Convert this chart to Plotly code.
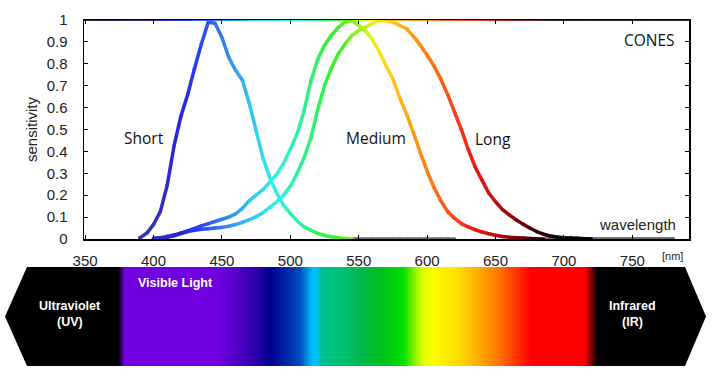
import plotly.graph_objects as go
import numpy as np

# ---------------- data ----------------
SHORT_NM = [390, 395, 400, 405, 410, 415, 420, 425, 430, 435, 440, 445, 450, 455, 460,
            465, 470, 475, 480, 485, 490, 495, 500, 505, 510, 515, 520, 525, 530, 535,
            540, 545, 550, 555, 560, 565, 570, 575, 580, 585, 590, 595, 600, 605, 610,
            615, 620]
SHORT = [0.005, 0.026, 0.066, 0.125, 0.245, 0.425, 0.56, 0.66, 0.78, 0.89, 0.99, 0.985,
         0.92, 0.83, 0.77, 0.725, 0.62, 0.495, 0.37, 0.28, 0.21, 0.155, 0.117, 0.083,
         0.056, 0.04, 0.026, 0.016, 0.01, 0.005, 0.002, 0, 0, 0, 0, 0, 0, 0, 0, 0, 0,
         0, 0, 0, 0, 0, 0]

MEDIUM_NM = [400, 405, 410, 415, 420, 425, 430, 435, 440, 445, 450, 455, 460, 465, 470,
             475, 480, 485, 490, 495, 500, 505, 510, 515, 520, 525, 530, 535, 540, 545,
             550, 555, 560, 565, 570, 575, 580, 585, 590, 595, 600, 605, 610, 615, 620,
             625, 630, 635, 640, 645, 650, 655, 660, 665, 670, 675, 680, 685, 690, 700,
             710, 720, 730, 740, 750, 760, 770, 780]
MEDIUM = [0.003, 0.006, 0.012, 0.019, 0.027, 0.037, 0.048, 0.06, 0.07, 0.08, 0.09, 0.1,
          0.115, 0.14, 0.175, 0.2, 0.225, 0.26, 0.295, 0.345, 0.41, 0.48, 0.585, 0.72,
          0.82, 0.885, 0.93, 0.965, 0.99, 0.998, 0.975, 0.95, 0.91, 0.855, 0.79, 0.73,
          0.645, 0.57, 0.485, 0.395, 0.31, 0.235, 0.175, 0.125, 0.095, 0.07, 0.055,
          0.043, 0.032, 0.024, 0.017, 0.011, 0.008, 0.006, 0.004, 0.002, 0.001, 0, 0,
          0, 0, 0, 0, 0, 0, 0, 0, 0]

LONG_NM = [400, 405, 410, 415, 420, 425, 430, 435, 440, 445, 450, 455, 460, 465, 470,
           475, 480, 485, 490, 495, 500, 505, 510, 515, 520, 525, 530, 535, 540, 545,
           550, 555, 560, 565, 570, 575, 580, 585, 590, 595, 600, 605, 610, 615, 620,
           625, 630, 635, 640, 645, 650, 655, 660, 665, 670, 675, 680, 685, 690, 695,
           700, 705, 710, 715, 720, 730, 740, 750, 760, 770, 780]
LONG = [0.002, 0.004, 0.008, 0.015, 0.025, 0.034, 0.04, 0.044, 0.047, 0.05, 0.053, 0.058,
        0.066, 0.076, 0.088, 0.102, 0.12, 0.145, 0.17, 0.2, 0.24, 0.3, 0.37, 0.46, 0.59,
        0.7, 0.78, 0.845, 0.89, 0.93, 0.952, 0.968, 0.985, 0.997, 0.998, 0.99, 0.975,
        0.96, 0.925, 0.885, 0.84, 0.79, 0.73, 0.66, 0.58, 0.5, 0.41, 0.33, 0.27, 0.21,
        0.17, 0.135, 0.11, 0.088, 0.068, 0.05, 0.034, 0.022, 0.014, 0.009, 0.006, 0.005,
        0.003, 0.001, 0, 0, 0, 0, 0, 0, 0]

X_TICKS = [350, 400, 450, 500, 550, 600, 650, 700, 750]
X_TICK_TEXT = ["350", "400", "450", "500", "550", "600", "650", "700", "750"]
Y_TICKS = [0, 0.1, 0.2, 0.3, 0.4, 0.5, 0.6, 0.7, 0.8, 0.9, 1]
Y_TICK_TEXT = ["0", "0.1", "0.2", "0.3", "0.4", "0.5", "0.6", "0.7", "0.8", "0.9", "1"]

# ---------------- style ----------------
LINE_STOPS = [(349, "#000000"), (385, "#2a2a80"), (392, "#363696"), (405, "#3030c0"),
              (420, "#2424e4"), (435, "#2a48f4"), (445, "#3468f0"), (460, "#34a0f0"),
              (475, "#30d0f0"), (488, "#30f0e8"), (505, "#30f0a8"), (520, "#30f060"),
              (535, "#40f020"), (548, "#90f020"), (560, "#e8f020"), (572, "#ffd020"),
              (588, "#ffa010"), (605, "#ff7010"), (620, "#f84020"), (635, "#f01414"),
              (650, "#c01010"), (665, "#800008"), (680, "#380000"), (695, "#000000"),
              (800, "#000000")]
BORDER_STOPS = [(349, "#000000"), (370, "#000030"), (385, "#000060"), (400, "#000090"),
                (415, "#0010d0"), (430, "#0030f0"), (445, "#0060ff"), (465, "#00a8ff"),
                (485, "#00e8ff"), (500, "#00fff0"), (515, "#00ff90"), (530, "#00ff20"),
                (548, "#90ff00"), (560, "#f0f000"), (575, "#ffb000"), (600, "#ff8000"),
                (620, "#ff3000"), (640, "#f00000"), (660, "#a00000"), (675, "#500000"),
                (688, "#000000"), (800, "#000000")]
BAR_STOPS = [(110, "#000000"), (118, "#000000"), (124, "#7000e0"), (218, "#7000e0"),
             (240, "#4c00c4"), (257, "#2800a8"), (270, "#000090"), (290, "#0030b0"),
             (300, "#0050c0"), (307, "#0090e0"), (312, "#00c0ff"), (316, "#00c0ff"),
             (321, "#00c090"), (343, "#00c070"), (360, "#00b850"), (380, "#00c020"),
             (403, "#00e000"), (413, "#80f000"), (423, "#e0ff00"), (432, "#ffff00"),
             (460, "#ffd800"), (483, "#ffa000"), (500, "#ff7000"), (517, "#ff3000"),
             (530, "#ff0000"), (584, "#ff0000"), (593, "#500000"), (597, "#000000"),
             (600, "#000000")]
ZERO_COLOR = "#6e6e6e"


def hex2rgb(h):
    return tuple(int(h[i:i + 2], 16) for i in (1, 3, 5))


def interp(stops, w):
    if w <= stops[0][0]:
        r, g, b = hex2rgb(stops[0][1])
        return f"rgb({r},{g},{b})"
    for (w0, c0), (w1, c1) in zip(stops[:-1], stops[1:]):
        if w0 <= w <= w1:
            t = (w - w0) / (w1 - w0) if w1 > w0 else 0
            a, b_ = hex2rgb(c0), hex2rgb(c1)
            r, g, b = (round(a[k] + (b_[k] - a[k]) * t) for k in range(3))
            return f"rgb({r},{g},{b})"
    r, g, b = hex2rgb(stops[-1][1])
    return f"rgb({r},{g},{b})"


W, H = 717, 381
ML, MR, MT, MB = 5, 11, 20, 15
BOX_W, BOX_H = W - ML - MR, H - MT - MB
X_DOMAIN = [(84 - ML) / BOX_W, (689 - ML) / BOX_W]
Y_DOMAIN = [(H - MB - 239) / BOX_H, 1.0]
BAR_DOMAIN = [0, (366 - 267) / BOX_H]
X_RANGE = [349.2, 791.4]

fig = go.Figure()

# --- spectrum bar (pixel coordinates on x2/y2) ---
bar_x = np.arange(110, 601)
z0, z1 = BAR_STOPS[0][0], BAR_STOPS[-1][0]
bar_scale = [[(p - z0) / (z1 - z0), c] for p, c in BAR_STOPS]
fig.add_trace(go.Heatmap(x=bar_x, y=[0.5], z=[bar_x], zmin=z0, zmax=z1,
                         colorscale=bar_scale, showscale=False, hoverinfo="skip",
                         xaxis="x2", yaxis="y2"))
fig.add_trace(go.Scatter(x=[5, 27, 116, 116, 27, 5], y=[0.5, 1, 1, 0, 0, 0.5],
                         fill="toself", fillcolor="#000000", mode="none",
                         hoverinfo="skip", showlegend=False, xaxis="x2", yaxis="y2"))
fig.add_trace(go.Scatter(x=[597, 685, 706, 685, 597, 597], y=[1, 1, 0.5, 0, 0, 1],
                         fill="toself", fillcolor="#000000", mode="none",
                         hoverinfo="skip", showlegend=False, xaxis="x2", yaxis="y2"))


# --- cone curves, drawn segment by segment in wavelength colour ---
def add_curve(nm, vals):
    pcolors = []
    for i in range(len(nm)):
        left0 = i == 0 or vals[i - 1] == 0
        right0 = i == len(nm) - 1 or vals[i + 1] == 0
        pcolors.append(ZERO_COLOR if vals[i] == 0 and left0 and right0
                       else interp(LINE_STOPS, nm[i]))
    for i in range(len(nm) - 1):
        if vals[i] == 0 and vals[i + 1] == 0:
            col = ZERO_COLOR
        else:
            col = interp(LINE_STOPS, (nm[i] + nm[i + 1]) / 2)
        fig.add_trace(go.Scatter(x=nm[i:i + 2], y=vals[i:i + 2], mode="lines",
                                 line=dict(color=col, width=3.5),
                                 hoverinfo="skip", showlegend=False))
    fig.add_trace(go.Scatter(x=nm, y=vals, mode="markers",
                             marker=dict(color=pcolors, size=3.6, line=dict(width=0)),
                             hoverinfo="skip", showlegend=False))


add_curve(MEDIUM_NM, MEDIUM)
add_curve(LONG_NM, LONG)
add_curve(SHORT_NM, SHORT)

# --- coloured top border ---
shapes = []
step = 2.0
w = X_RANGE[0]
while w < X_RANGE[1]:
    w2 = min(w + step, X_RANGE[1])
    shapes.append(dict(type="line", xref="x", yref="y", x0=w, x1=w2 + 0.3, y0=1, y1=1,
                       line=dict(color=interp(BORDER_STOPS, (w + w2) / 2), width=1.6),
                       layer="above"))
    w = w2
fig.update_layout(shapes=shapes)

txt_font = dict(family="Open Sans, Noto Sans, sans-serif", size=15.5, color="#111")
annotations = [
    dict(x=393.4, y=0.461, text="Short", font=txt_font),
    dict(x=562.7, y=0.461, text="Medium", font=txt_font),
    dict(x=648.2, y=0.457, text="Long", font=txt_font),
    dict(x=782.7, y=0.909, text="CONES", font=txt_font, xanchor="right"),
    dict(x=783.4, y=0.064, text="wavelength", xanchor="right",
         font=dict(family="Liberation Sans, Arial, sans-serif", size=15, color="#222")),
    dict(x=779.7, y=0, yshift=-17, text="[nm]",
         font=dict(family="Liberation Sans, Arial, sans-serif", size=11, color="#222")),
]
for a in annotations:
    a.setdefault("xanchor", "center")
    a.update(xref="x", yref="y", showarrow=False, yanchor="middle")

bar_font = dict(family="Liberation Sans, Arial, sans-serif", size=12.5, color="white")
bar_texts = [
    dict(x=70, y=(366 - 306) / 99, text="<b>Ultraviolet</b>"),
    dict(x=70, y=(366 - 322) / 99, text="<b>(UV)</b>"),
    dict(x=136, y=(366 - 283) / 99, text="<b>Visible Light</b>", xanchor="left"),
    dict(x=632, y=(366 - 306) / 99, text="<b>Infrared</b>"),
    dict(x=632, y=(366 - 322) / 99, text="<b>(IR)</b>"),
]
for a in bar_texts:
    a.setdefault("xanchor", "center")
    a.update(xref="x2", yref="y2", showarrow=False, yanchor="middle", font=bar_font)

tick_font = dict(family="Liberation Sans, Arial, sans-serif", size=15, color="#222")
fig.update_layout(
    width=W, height=H,
    margin=dict(l=ML, r=MR, t=MT, b=MB, pad=0, autoexpand=False),
    paper_bgcolor="white", plot_bgcolor="white",
    showlegend=False, hovermode=False,
    annotations=annotations + bar_texts,
    xaxis=dict(domain=X_DOMAIN, range=X_RANGE, tickvals=X_TICKS, ticktext=X_TICK_TEXT,
               showgrid=False, zeroline=False, showline=True, linecolor="black",
               linewidth=1.5, mirror="ticks", ticks="inside", ticklen=4,
               tickcolor="black", tickfont=tick_font, ticklabelstandoff=7,
               automargin=False, anchor="y"),
    yaxis=dict(domain=Y_DOMAIN, range=[0, 1], tickvals=Y_TICKS, ticktext=Y_TICK_TEXT,
               showgrid=False, zeroline=False, showline=True, linecolor="black",
               linewidth=1.5, mirror="ticks", ticks="inside", ticklen=4,
               tickcolor="black", tickfont=tick_font, ticklabelstandoff=12,
               automargin=False,
               title=dict(text="sensitivity", standoff=5,
                          font=dict(family="Liberation Sans, Arial, sans-serif",
                                    size=15, color="#222")),
               anchor="x"),
    xaxis2=dict(domain=[0, 1], range=[ML, W - MR], visible=False, fixedrange=True,
                anchor="y2", automargin=False),
    yaxis2=dict(domain=BAR_DOMAIN, range=[0, 1], visible=False, fixedrange=True,
                anchor="x2", automargin=False),
)

fig.write_html("out.html",
               config={"displayModeBar": False, "staticPlot": True},
               post_script="document.body.style.margin='0';"
                           "document.body.style.overflow='hidden';")
